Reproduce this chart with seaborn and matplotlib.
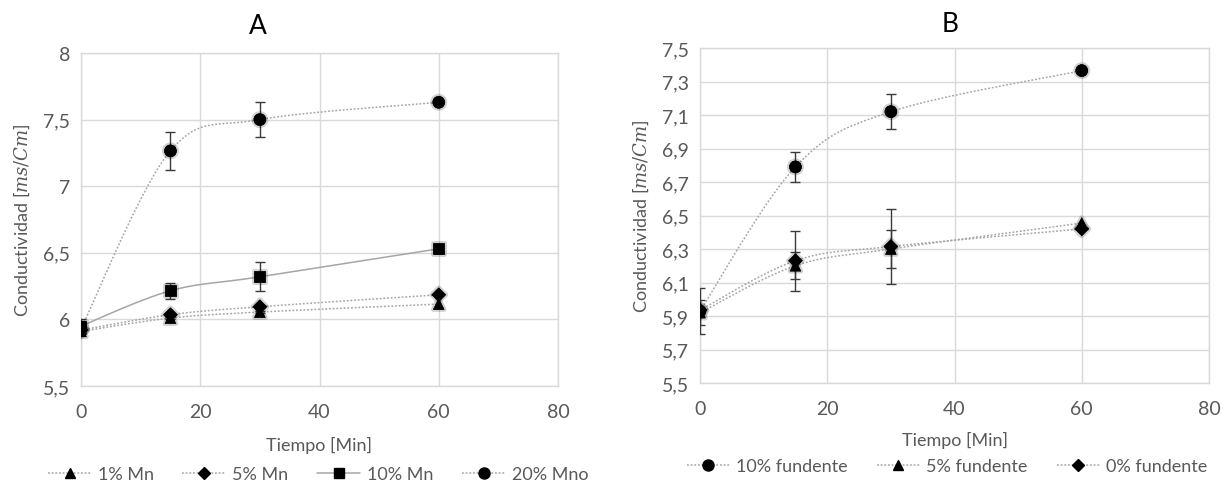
import numpy as np
import pandas as pd
import matplotlib
matplotlib.use("Agg")
import matplotlib.pyplot as plt
import seaborn as sns
from matplotlib.lines import Line2D
from matplotlib.ticker import FuncFormatter
import matplotlib.patheffects as pe

# ---------------- data ----------------
time_min = [0, 15, 30, 60]

a_labels = ["1% Mn", "5% Mn", "10% Mn", "20% Mno"]
a_mn1 = [5.91, 6.01, 6.055, 6.115]
a_mn5 = [5.92, 6.035, 6.095, 6.185]
a_mn10 = [5.95, 6.215, 6.32, 6.53]
a_mn20 = [5.93, 7.265, 7.50, 7.63]
a_mn1_err = [0.02, 0.01, 0.01, 0.0]
a_mn5_err = [0.02, 0.01, 0.01, 0.0]
a_mn10_err = [0.05, 0.06, 0.11, 0.0]
a_mn20_err = [0.03, 0.14, 0.13, 0.0]

b_labels = ["10% fundente", "5% fundente", "0% fundente"]
b_f10 = [5.93, 6.79, 7.12, 7.365]
b_f5 = [5.92, 6.20, 6.30, 6.455]
b_f0 = [5.935, 6.23, 6.315, 6.42]
b_f10_err = [0.14, 0.09, 0.105, 0.0]
b_f5_err = [0.075, 0.08, 0.115, 0.0]
b_f0_err = [0.0, 0.18, 0.225, 0.0]

a_yticks = [5.5, 6.0, 6.5, 7.0, 7.5, 8.0]
b_yticks = [5.5, 5.7, 5.9, 6.1, 6.3, 6.5, 6.7, 6.9, 7.1, 7.3, 7.5]
x_ticks = [0, 20, 40, 60, 80]

# ---------------- style ----------------
sns.set_theme(style="white")
plt.rcParams['font.family'] = ['Lato', 'DejaVu Sans']
plt.rcParams['mathtext.fontset'] = 'dejavuserif'
TXT = '#595959'
GRID = '#d9d9d9'
LINE = '#a6a6a6'
ERR = '#3a3a3a'

W, H = 1225, 485
fig = plt.figure(figsize=(W / 100, H / 100), dpi=100)

def px_axes(l, r, t, b):
    return fig.add_axes([l / W, (H - b) / H, (r - l) / W, (b - t) / H])

axA = px_axes(81, 558, 54, 387)
axB = px_axes(700, 1209, 49, 384)


def smooth_curve(xs, ys, xr, yr, wpx, hpx, n=40):
    sx = wpx / (xr[1] - xr[0])
    sy = hpx / (yr[1] - yr[0])
    P = np.column_stack([np.asarray(xs, float) * sx, np.asarray(ys, float) * sy])
    out = []
    m = len(P)
    for i in range(m - 1):
        p0 = P[i - 1] if i > 0 else P[i]
        p1 = P[i]
        p2 = P[i + 1]
        p3 = P[i + 2] if i + 2 < m else P[i + 1]
        c1 = p1 + (p2 - p0) / 6.0
        c2 = p2 - (p3 - p1) / 6.0
        t = np.linspace(0, 1, n)[:, None]
        seg = ((1 - t) ** 3) * p1 + 3 * ((1 - t) ** 2) * t * c1 + 3 * (1 - t) * t ** 2 * c2 + t ** 3 * p2
        out.append(seg if i == 0 else seg[1:])
    out = np.vstack(out)
    return out[:, 0] / sx, out[:, 1] / sy


def draw_series(ax, ys, err, marker, ls, xr, yr, wpx, hpx, ms):
    cx, cy = smooth_curve(time_min, ys, xr, yr, wpx, hpx)
    ax.plot(cx, cy, color=LINE, lw=1.1, ls=ls, zorder=3)
    e = np.asarray(err)
    mask = e > 0
    ax.errorbar(np.asarray(time_min)[mask], np.asarray(ys)[mask], yerr=e[mask],
                fmt='none', ecolor=ERR, elinewidth=1.0, capsize=3.5, capthick=1.0, zorder=4)
    df = pd.DataFrame({'t': time_min, 'v': ys})
    sns.scatterplot(data=df, x='t', y='v', ax=ax, marker=marker, s=ms, color='black',
                    edgecolor='black', linewidth=0.5, zorder=5, legend=False,
                    path_effects=[pe.withStroke(linewidth=3.5, foreground=(0, 0, 0, 0.18))])


dotted = (0, (1.2, 1.2))
# Panel A
A_series = [(a_mn1, a_mn1_err, '^', dotted), (a_mn5, a_mn5_err, 'D', dotted),
            (a_mn10, a_mn10_err, 's', '-'), (a_mn20, a_mn20_err, 'o', dotted)]
for ys, err, mk, ls in A_series:
    draw_series(axA, ys, err, mk, ls, (0, 80), (5.5, 8.0), 477, 333,
                ms=(75 if mk == 'o' else 60 if mk != 'D' else 50))

# Panel B
B_series = [(b_f10, b_f10_err, 'o', dotted), (b_f5, b_f5_err, '^', dotted), (b_f0, b_f0_err, 'D', dotted)]
for ys, err, mk, ls in B_series:
    draw_series(axB, ys, err, mk, ls, (0, 80), (5.5, 7.5), 509, 335,
                ms=(75 if mk == 'o' else 60 if mk != 'D' else 50))

fmtA = FuncFormatter(lambda v, p: f"{round(v, 2):g}".replace('.', ','))
fmtB = FuncFormatter(lambda v, p: f"{v:.1f}".replace('.', ','))

for ax, yt, fmt, ylim in [(axA, a_yticks, fmtA, (5.5, 8.0)), (axB, b_yticks, fmtB, (5.5, 7.5))]:
    ax.set_xlim(0, 80)
    ax.set_ylim(*ylim)
    ax.set_xticks(x_ticks)
    ax.set_yticks(yt)
    ax.yaxis.set_major_formatter(fmt)
    ax.grid(True, color=GRID, lw=1.0)
    ax.set_axisbelow(True)
    for s in ax.spines.values():
        s.set_color(GRID)
        s.set_linewidth(1.0)
    ax.tick_params(axis='both', length=0, labelsize=14, labelcolor=TXT, pad=8)
    ax.tick_params(axis='x', pad=12)
    ax.set_xlabel('Tiempo [Min]', fontsize=13, color=TXT, labelpad=10)
    ax.set_ylabel(r'Conductividad [$ms/Cm$]', fontsize=13, color=TXT, labelpad=8)

axA.xaxis.labelpad = 12

fig.text(258 / W, 1 - 27 / H, 'A', fontsize=19, color='black', ha='center', va='center')
fig.text(950 / W, 1 - 25 / H, 'B', fontsize=19, color='black', ha='center', va='center')

def handle(mk, ls):
    return Line2D([], [], color=LINE, ls=ls, lw=1.1, marker=mk,
                  markersize=(8 if mk == 'o' else 7.5 if mk == '^' else 6.5),
                  markerfacecolor='black', markeredgecolor='black')

hA = [handle('^', dotted), handle('D', dotted), handle('s', '-'), handle('o', dotted)]
fig.legend(hA, a_labels, loc='center', bbox_to_anchor=(318 / W, 1 - 475 / H), ncol=4, frameon=False,
           fontsize=13, handlelength=2.4, columnspacing=1.6, handletextpad=0.35, labelcolor=TXT,
           borderpad=0.1)
hB = [handle('o', dotted), handle('^', dotted), handle('D', dotted)]
fig.legend(hB, b_labels, loc='center', bbox_to_anchor=(947 / W, 1 - 467 / H), ncol=3, frameon=False,
           fontsize=13, handlelength=2.4, columnspacing=1.6, handletextpad=0.35, labelcolor=TXT,
           borderpad=0.1)

fig.savefig('out.png', dpi=100, facecolor='white')
